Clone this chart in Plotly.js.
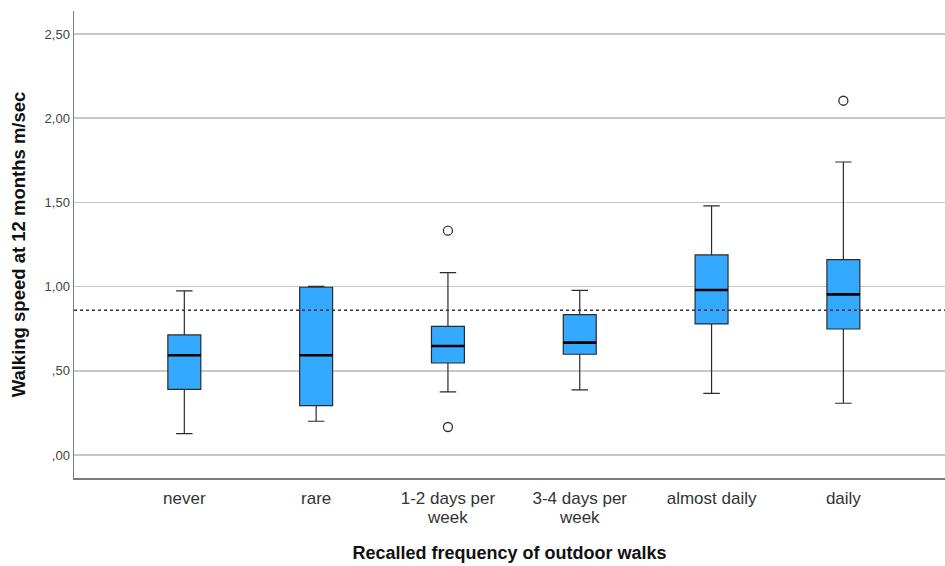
<!DOCTYPE html>
<html>
<head>
<meta charset="utf-8">
<script src="https://cdn.plot.ly/plotly-3.0.1.min.js"></script>
<style>html,body{margin:0;padding:0;background:#fff;}#chart{width:945px;height:566px;}</style>
</head>
<body>
<div id="chart"></div>
<script>
// Data
const categories = ["never", "rare", "1-2 days per<br>week", "3-4 days per<br>week", "almost daily", "daily"];
const lowerWhisker = [0.126, 0.200, 0.374, 0.386, 0.366, 0.307];
const q1Values     = [0.390, 0.293, 0.546, 0.598, 0.778, 0.748];
const medianValues = [0.592, 0.592, 0.647, 0.667, 0.980, 0.954];
const q3Values     = [0.713, 0.996, 0.764, 0.833, 1.188, 1.160];
const upperWhisker = [0.975, 1.002, 1.083, 0.978, 1.480, 1.740];
const outlierCategory = [2, 2, 5];
const outlierValues   = [1.332, 0.166, 2.104];
const referenceLine = 0.859;
const yTickValues = [0, 0.5, 1.0, 1.5, 2.0, 2.5];
const yTickLabels = [",00", ",50", "1,00", "1,50", "2,00", "2,50"];

const positions = categories.map((c, i) => i);
const boxWidth = 0.25;
// tick labels drawn larger than the base font so the two-line labels keep a tight line spacing
const tickText = categories.map(c => c.split("<br>").map(s => '<span style="font-size:17px">' + s + '</span>').join("<br>"));

const boxTrace = {
  type: "box",
  x: positions,
  q1: q1Values,
  median: medianValues,
  q3: q3Values,
  lowerfence: lowerWhisker,
  upperfence: upperWhisker,
  width: boxWidth,
  whiskerwidth: 0.5,
  fillcolor: "#33aaff",
  line: {color: "#2b2b2b", width: 1.2},
  boxpoints: false,
  hoverinfo: "skip",
  showlegend: false
};

const mx = [], my = [];
positions.forEach((p, i) => {
  mx.push(p - boxWidth / 2, p + boxWidth / 2, null);
  my.push(medianValues[i], medianValues[i], null);
});
const medianTrace = {
  type: "scatter", mode: "lines", x: mx, y: my,
  line: {color: "#000000", width: 2.6},
  hoverinfo: "skip", showlegend: false
};

const outlierTrace = {
  type: "scatter", mode: "markers",
  x: outlierCategory, y: outlierValues,
  marker: {symbol: "circle-open", size: 9, color: "#333333", line: {width: 1.3, color: "#333333"}},
  hoverinfo: "skip", showlegend: false
};

const layout = {
  width: 945, height: 566,
  margin: {l: 74, r: 0, t: 11, b: 88},
  paper_bgcolor: "#ffffff", plot_bgcolor: "#ffffff",
  font: {family: "Liberation Sans, Arial, sans-serif", color: "#333333"},
  showlegend: false,
  xaxis: {
    range: [-0.837, 5.771],
    tickvals: positions, ticktext: tickText,
    showgrid: false, zeroline: false,
    showline: true, linecolor: "#7a7a7a", linewidth: 1.5,
    ticks: "", tickfont: {size: 14.5, color: "#333333"},
    ticklabelstandoff: 7,
    title: {text: "<b>Recalled frequency of outdoor walks</b>", font: {size: 18, color: "#111111"}, standoff: 20},
    automargin: false
  },
  yaxis: {
    range: [-0.137, 2.637],
    tickvals: yTickValues, ticktext: yTickLabels,
    showgrid: true, gridcolor: "#c8c8c8", gridwidth: 1.5,
    zeroline: false,
    showline: true, linecolor: "#7a7a7a", linewidth: 1.5,
    ticks: "", tickfont: {size: 13, color: "#444444"},
    title: {text: "<b>Walking speed at 12 months m/sec</b>", font: {size: 18.5, color: "#111111"}, standoff: 14},
    automargin: false
  },
  shapes: [{
    type: "line", xref: "paper", yref: "y",
    x0: 0, x1: 1, y0: referenceLine, y1: referenceLine,
    line: {color: "#333333", width: 1.5, dash: "3px,3px"}
  }]
};

Plotly.newPlot("chart", [boxTrace, medianTrace, outlierTrace], layout, {displayModeBar: false, staticPlot: true});
</script>
</body>
</html>
